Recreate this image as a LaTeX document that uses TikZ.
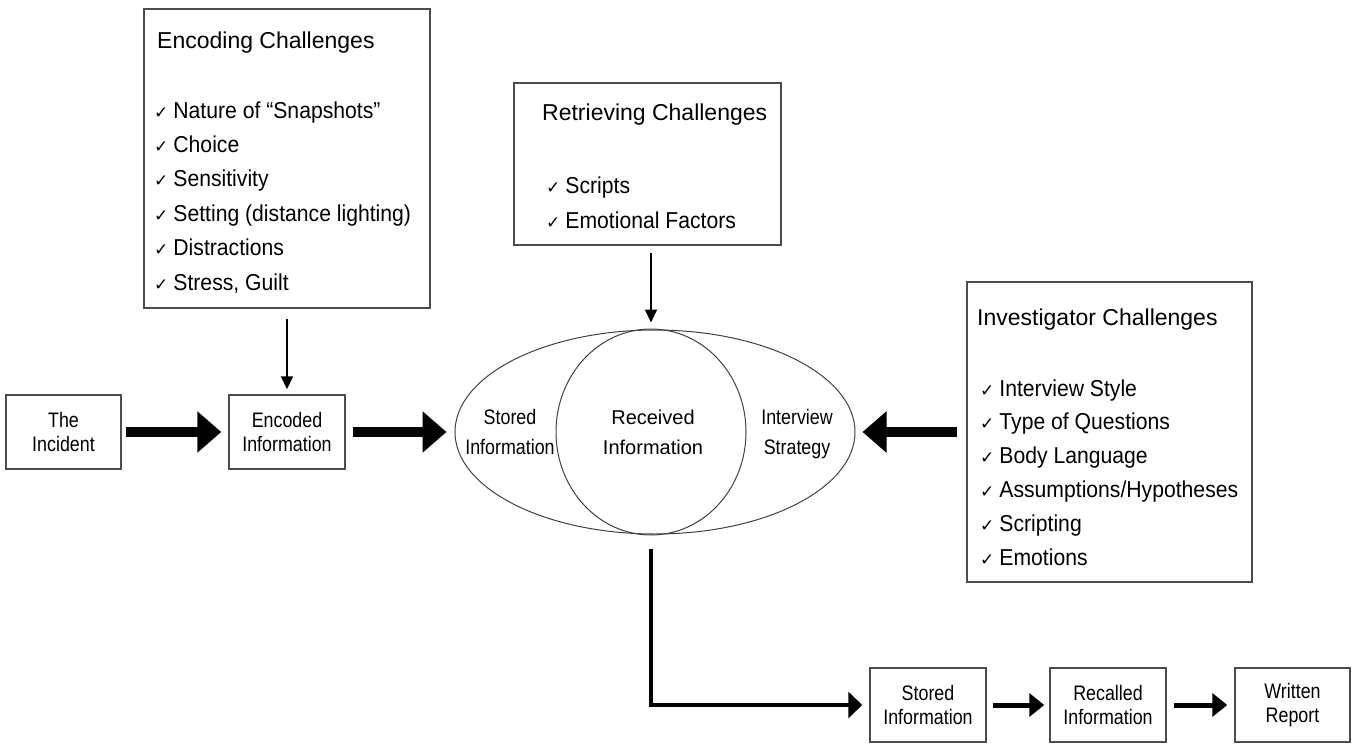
\documentclass[tikz,border=0pt]{standalone}
\usepackage{fontspec}
\setmainfont{Liberation Sans}
\newfontfamily\narrowfont{Liberation Sans}[FakeStretch=0.85]
\newfontfamily\itemfont{Liberation Sans}[FakeStretch=0.92]
\newfontfamily\checkfont{DejaVu Sans}
\usetikzlibrary{arrows.meta}
\usetikzlibrary{shapes.geometric}
\newcommand{\chk}{{\checkfont\fontsize{17}{17}\selectfont\char"2713}\hspace{5pt}}
\tikzset{chbox/.style={draw=black!70, line width=1.5pt, inner sep=0pt},
 chtitle/.style={anchor=base west, inner sep=0pt, text=black, font=\fontsize{23}{23}\selectfont},
 chitem/.style={anchor=base west, inner sep=0pt, text=black, font=\itemfont\fontsize{23}{23}\selectfont},
 infobox/.style={draw=black!70, line width=1.5pt, inner sep=0pt, align=center,
   minimum width=116pt, minimum height=74pt, text=black,
   font=\narrowfont\fontsize{21}{24}\selectfont},
 ovalline/.style={draw=black!75, line width=1pt, ellipse, inner sep=0pt},
 sidelabel/.style={align=center, inner sep=0pt, text=black,
   font=\narrowfont\fontsize{21}{30}\selectfont},
 bigarrow/.style={line width=10pt, -{Triangle[length=24pt,width=40pt]}},
 downarrow/.style={line width=2pt, -{Triangle[length=13pt,width=12pt]}},
 midarrow/.style={line width=4pt, -{Triangle[length=14pt,width=26pt]}},
 smallarrow/.style={line width=5pt, -{Triangle[length=15pt,width=23pt]}},
 }

\begin{document}
\begin{tikzpicture}[x=1pt, y=-1pt]
        \useasboundingbox (0,0) rectangle (1361,744);

        % challenge boxes
        \node[chbox, minimum width=286pt, minimum height=299pt] (enc) at (287,158.5) {};
        \node[chtitle] (enctitle) at (157,48) {Encoding Challenges};
        \foreach \t [count=\i from 0] in {Nature of “Snapshots”, Choice, Sensitivity,
            Setting (distance lighting), Distractions, {Stress, Guilt}}
            \node[chitem] (enc\i) at (154,118+34.4*\i) {\chk\t};

        \node[chbox, minimum width=267pt, minimum height=162pt] (ret) at (647.5,164) {};
        \node[chtitle] (rettitle) at (542,120) {Retrieving Challenges};
        \foreach \t [count=\i from 0] in {Scripts, Emotional Factors}
            \node[chitem] (ret\i) at (546,193+35*\i) {\chk\t};

        \node[chbox, minimum width=285pt, minimum height=300pt] (inv) at (1109.5,432) {};
        \node[chtitle] (invtitle) at (977,325) {Investigator Challenges};
        \foreach \t [count=\i from 0] in {Interview Style, Type of Questions, Body Language,
            Assumptions/Hypotheses, Scripting, Emotions}
            \node[chitem] (inv\i) at (980,396+33.8*\i) {\chk\t};

        % flow
        \node[infobox, minimum width=115pt] (incident) at (63.5,432) {The\\Incident};
        \node[infobox] (encoded) at (287,432) {Encoded\\Information};

        \node[ovalline, minimum width=400pt, minimum height=204pt] (oval) at (655,432) {};
        \node[ovalline, minimum width=190pt, minimum height=206pt] (circ) at (651,432) {};
        \node[sidelabel] (storedlbl) at (510,432) {Stored\\Information};
        \node[sidelabel, font=\fontsize{20}{30}\selectfont] (received) at (653,432) {Received\\Information};
        \node[sidelabel] (strategy) at (797,434) {Interview\\Strategy};

        \node[infobox] (stored) at (928,705) {Stored\\Information};
        \node[infobox] (recalled) at (1108,705) {Recalled\\Information};
        \node[infobox, minimum width=115pt] (report) at (1292.5,705) {Written\\Report};

        \draw[bigarrow, shorten <=4pt, shorten >=7pt] (incident.east) -- (encoded.west);
        \draw[bigarrow, shorten <=7pt, shorten >=8pt] (encoded.east) -- (oval.west);
        \draw[bigarrow, shorten <=9pt, shorten >=7pt] (inv.west) -- (oval.east);

        \draw[downarrow, shorten <=10pt, shorten >=5pt] (enc.south) -- (encoded.north);
        \draw[downarrow, shorten <=7pt, shorten >=6pt] (ret.south -| circ.north) -- (circ.north);

        \draw[midarrow, shorten <=13pt, shorten >=7pt] (circ.south) |- (stored.west);
        \draw[smallarrow, shorten <=6pt, shorten >=5pt] (stored.east) -- (recalled.west);
        \draw[smallarrow, shorten <=7pt, shorten >=7pt] (recalled.east) -- (report.west);
        \end{tikzpicture}
\end{document}
